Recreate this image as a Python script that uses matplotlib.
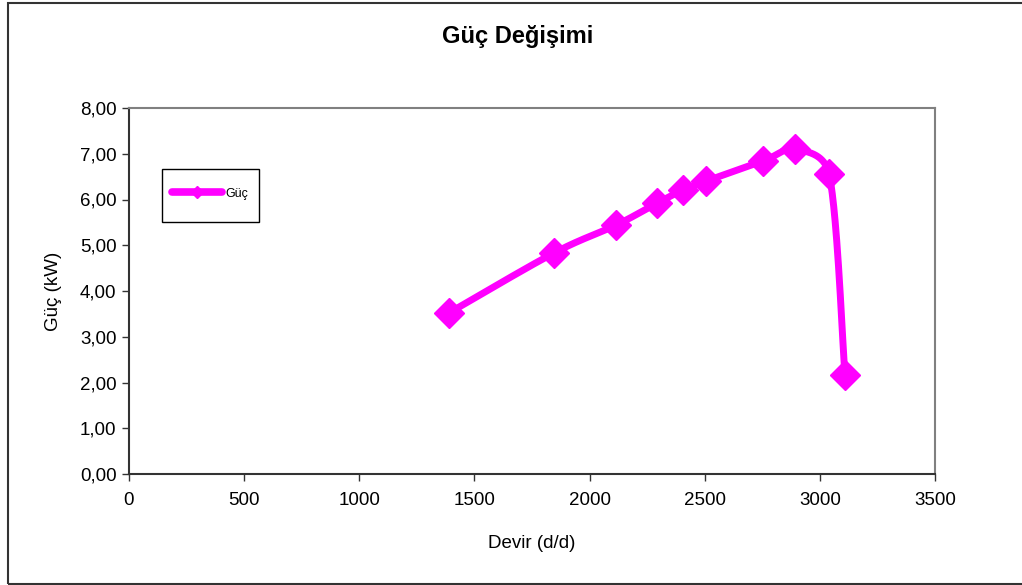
import numpy as np
import matplotlib
matplotlib.use("Agg")
import matplotlib.pyplot as plt
from matplotlib.patches import Rectangle
from matplotlib.ticker import FuncFormatter

plt.rcParams['font.family'] = ['Liberation Sans', 'DejaVu Sans']

# Engine speed (rpm) and measured power (kW)
devir = [1389, 1845, 2115, 2293, 2405, 2505, 2753, 2892, 3040, 3109]
guc = [3.52, 4.83, 5.44, 5.92, 6.21, 6.40, 6.84, 7.10, 6.56, 2.16]

title = "Güç Değişimi"
xlabel = "Devir (d/d)"
ylabel = "Güç (kW)"
series_name = "Güç"
color = "#FF00FF"

W, H = 1022, 585
AX_L, AX_R, AX_T, AX_B = 129, 935, 108, 474
XMAX, YMAX = 3500, 8


def _clamp(v, limit):
    n = np.hypot(*v)
    return v if n <= limit or n == 0 else v * (limit / n)


def smooth_curve(xs, ys, n=60, k=0.5):
    """Bezier smoothing through every point, computed in screen space,
    with control arms limited relative to each segment's chord."""
    p = np.column_stack([xs, ys]).astype(float)
    scale = np.array([(AX_R - AX_L) / XMAX, (AX_B - AX_T) / YMAX])
    q = p * scale
    pts = np.vstack([q[0], q, q[-1]])
    out = []
    for i in range(1, len(pts) - 2):
        p0, p1, p2, p3 = pts[i - 1], pts[i], pts[i + 1], pts[i + 2]
        chord = np.hypot(*(p2 - p1))
        a1 = _clamp((p2 - p0) / 6.0, k * chord)
        a2 = _clamp((p3 - p1) / 6.0, k * chord)
        c1, c2 = p1 + a1, p2 - a2
        t = np.linspace(0, 1, n, endpoint=(i == len(pts) - 3))[:, None]
        seg = ((1 - t) ** 3) * p1 + 3 * ((1 - t) ** 2) * t * c1 + 3 * (1 - t) * t ** 2 * c2 + t ** 3 * p2
        out.append(seg)
    s = np.vstack(out) / scale
    return s[:, 0], s[:, 1]


fig = plt.figure(figsize=(W / 100, H / 100), dpi=100)

# outer chart frame
fig.patches.append(Rectangle((7.5 / W, 0.8 / H), (1030 - 7.5) / W, (582.5 - 0.8) / H,
                             transform=fig.transFigure, fill=False,
                             edgecolor="#333333", linewidth=1.5))

ax = fig.add_axes([AX_L / W, (H - AX_B) / H, (AX_R - AX_L) / W, (AX_B - AX_T) / H])

sx, sy = smooth_curve(devir, guc)
ax.plot(sx, sy, color=color, linewidth=5, solid_capstyle="round", zorder=3)
ax.plot(devir, guc, linestyle="none", marker="D", markersize=15,
        color=color, markeredgecolor=color, zorder=4)

ax.set_xlim(0, XMAX)
ax.set_ylim(0, YMAX)
ax.set_xticks(np.arange(0, XMAX + 1, 500))
ax.set_yticks(np.arange(0, YMAX + 0.01, 1))
ax.yaxis.set_major_formatter(FuncFormatter(lambda v, _: f"{v:.2f}".replace(".", ",")))

for side in ("top", "right"):
    ax.spines[side].set_color("#808080")
    ax.spines[side].set_linewidth(1.5)
for side in ("left", "bottom"):
    ax.spines[side].set_color("#333333")
    ax.spines[side].set_linewidth(1.5)

ax.tick_params(direction="out", length=5, width=1, color="#333333",
               labelsize=13.5, labelcolor="black")
ax.tick_params(axis="x", pad=8)
ax.tick_params(axis="y", pad=4)

ax.set_xlabel(xlabel, fontsize=13.5, labelpad=19)
ax.set_ylabel(ylabel, fontsize=13.5, labelpad=13)

fig.text(518 / W, 1 - 36 / H, title, ha="center", va="center",
         fontsize=17, fontweight="bold")

# legend box
lx0, lx1, ly0, ly1 = 162, 259, 169, 222
fig.patches.append(Rectangle((lx0 / W, 1 - ly1 / H), (lx1 - lx0) / W, (ly1 - ly0) / H,
                             transform=fig.transFigure, fill=True, facecolor="white",
                             edgecolor="black", linewidth=1, zorder=5))
ly = 1 - 192 / H
fig.add_artist(plt.Line2D([172 / W, 222 / W], [ly, ly], transform=fig.transFigure,
                          color=color, linewidth=5.5, solid_capstyle="round", zorder=6))
fig.add_artist(plt.Line2D([197 / W], [ly], transform=fig.transFigure, marker="D",
                          markersize=6, color=color, zorder=7))
fig.text(225 / W, ly - 2 / H, series_name, fontsize=9, va="center", ha="left", zorder=7)

fig.savefig("out.png", dpi=100, facecolor="white")
